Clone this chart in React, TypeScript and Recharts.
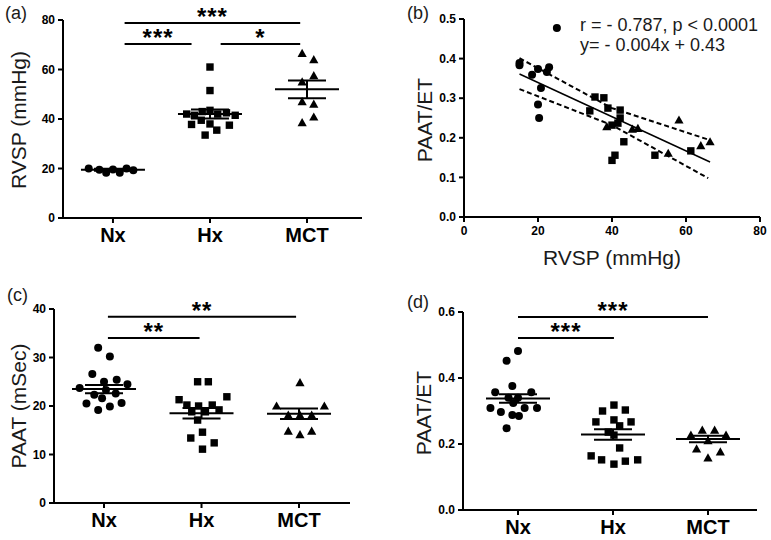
import React from "react"
import {
  ScatterChart,
  Scatter,
  XAxis,
  YAxis,
  ErrorBar,
  ReferenceLine,
} from "recharts"

const font = "Arial, 'Liberation Sans', sans-serif"
const ink = "#1a1a1a"

const groups = ["Nx", "Hx", "MCT"]

// (a) RVSP (mmHg), x = group position with jitter
const rvspNx = [
  { x: 0.75, y: 20 }, { x: 0.86, y: 19.5 }, { x: 0.93, y: 18.3 }, { x: 1.0, y: 19.6 },
  { x: 1.07, y: 18.3 }, { x: 1.14, y: 20 }, { x: 1.21, y: 19.3 },
]
const rvspHx = [
  { x: 2.0, y: 61 }, { x: 2.0, y: 51.5 }, { x: 1.76, y: 42 }, { x: 1.84, y: 41.5 },
  { x: 1.92, y: 43 }, { x: 2.0, y: 43.5 }, { x: 2.08, y: 42 }, { x: 2.17, y: 42.5 },
  { x: 2.26, y: 41.5 }, { x: 1.81, y: 37.8 }, { x: 1.91, y: 39.5 }, { x: 2.0, y: 38 },
  { x: 2.2, y: 37.5 }, { x: 1.95, y: 33.5 }, { x: 2.07, y: 35.5 },
]
const rvspMct = [
  { x: 2.95, y: 66.5 }, { x: 3.07, y: 64 }, { x: 3.07, y: 57.5 }, { x: 2.95, y: 55 },
  { x: 2.95, y: 47 }, { x: 3.07, y: 46 }, { x: 2.95, y: 38.5 }, { x: 3.07, y: 40.8 },
]
const rvspStats = [
  { x: 1, y: 19.5, sem: 0.4 },
  { x: 2, y: 42, sem: 1.8 },
  { x: 3, y: 52, sem: 3.6 },
]
const rvspSig = [
  { x1: 1.12, x2: 2.93, y: 78.8, stars: "***" },
  { x1: 1.12, x2: 1.81, y: 70.3, stars: "***" },
  { x1: 2.11, x2: 2.93, y: 70.3, stars: "*" },
]

// (b) PAAT/ET vs RVSP
const corrNx = [
  { x: 25.1, y: 0.477 }, { x: 15, y: 0.389 }, { x: 15, y: 0.383 }, { x: 18.4, y: 0.359 },
  { x: 20, y: 0.374 }, { x: 22.4, y: 0.366 }, { x: 23, y: 0.378 }, { x: 20.8, y: 0.326 },
  { x: 20, y: 0.284 }, { x: 20.3, y: 0.25 },
]
const corrHx = [
  { x: 35.4, y: 0.303 }, { x: 37.8, y: 0.301 }, { x: 34, y: 0.268 }, { x: 38.9, y: 0.275 },
  { x: 40, y: 0.232 }, { x: 42.2, y: 0.27 }, { x: 42.2, y: 0.25 }, { x: 41.6, y: 0.237 },
  { x: 43.2, y: 0.19 }, { x: 40, y: 0.143 }, { x: 40.8, y: 0.156 }, { x: 51.6, y: 0.156 },
  { x: 61.3, y: 0.167 },
]
const corrMct = [
  { x: 58.1, y: 0.245 }, { x: 66.5, y: 0.19 }, { x: 64, y: 0.18 }, { x: 55.2, y: 0.161 },
  { x: 47, y: 0.224 }, { x: 38.6, y: 0.228 }, { x: 45.5, y: 0.222 },
]
const fitLine = [{ x: 15, y: 0.361 }, { x: 66.5, y: 0.139 }]
const ciUpper = [{ x: 15, y: 0.401 }, { x: 40, y: 0.275 }, { x: 66.5, y: 0.194 }]
const ciLower = [{ x: 15, y: 0.323 }, { x: 40, y: 0.232 }, { x: 66, y: 0.098 }]

// (c) PAAT (mSec)
const paatNx = [
  { x: 0.94, y: 32 }, { x: 1.06, y: 30.2 }, { x: 0.88, y: 26.6 }, { x: 0.75, y: 23.7 },
  { x: 1.0, y: 25 }, { x: 1.13, y: 25.4 }, { x: 1.24, y: 24.5 }, { x: 0.82, y: 20.5 },
  { x: 0.94, y: 19.2 }, { x: 1.06, y: 19.9 }, { x: 1.18, y: 20.6 }, { x: 0.9, y: 22.3 },
  { x: 1.02, y: 23.3 }, { x: 1.12, y: 22.6 }, { x: 0.98, y: 21.6 },
]
const paatHx = [
  { x: 1.96, y: 25 }, { x: 2.07, y: 25 }, { x: 2.26, y: 21.9 }, { x: 1.77, y: 21.3 },
  { x: 1.85, y: 20.2 }, { x: 1.97, y: 20 }, { x: 2.11, y: 20.2 }, { x: 1.9, y: 18.8 },
  { x: 2.04, y: 18.8 }, { x: 2.18, y: 19.2 }, { x: 1.96, y: 17.1 }, { x: 2.01, y: 14.6 },
  { x: 1.89, y: 13.4 }, { x: 2.13, y: 12.4 }, { x: 2.01, y: 11.1 },
]
const paatMct = [
  { x: 3.01, y: 24.8 }, { x: 2.77, y: 20 }, { x: 3.26, y: 20 }, { x: 2.89, y: 18.1 },
  { x: 3.01, y: 18.1 }, { x: 3.13, y: 18.1 }, { x: 2.89, y: 14.8 }, { x: 3.01, y: 14.1 },
  { x: 3.13, y: 14.8 },
]
const paatStats = [
  { x: 1, y: 23.5, sem: 0.85 },
  { x: 2, y: 18.5, sem: 1.1 },
  { x: 3, y: 18.4, sem: 1.1 },
]
const paatSig = [
  { x1: 1.04, x2: 2.97, y: 38.4, stars: "**" },
  { x1: 1.04, x2: 1.98, y: 34, stars: "**" },
]

// (d) PAAT/ET
const ratioNx = [
  { x: 1.0, y: 0.482 }, { x: 0.88, y: 0.452 }, { x: 0.94, y: 0.376 }, { x: 0.76, y: 0.357 },
  { x: 1.14, y: 0.357 }, { x: 0.9, y: 0.34 }, { x: 1.0, y: 0.34 }, { x: 0.71, y: 0.309 },
  { x: 0.82, y: 0.297 }, { x: 1.07, y: 0.309 }, { x: 1.2, y: 0.309 }, { x: 0.94, y: 0.288 },
  { x: 1.01, y: 0.285 }, { x: 0.88, y: 0.248 }, { x: 0.95, y: 0.324 },
]
const ratioHx = [
  { x: 2.01, y: 0.318 }, { x: 1.89, y: 0.3 }, { x: 2.13, y: 0.303 }, { x: 1.82, y: 0.267 },
  { x: 2.01, y: 0.273 }, { x: 2.19, y: 0.267 }, { x: 2.07, y: 0.255 }, { x: 1.95, y: 0.236 },
  { x: 2.01, y: 0.227 }, { x: 2.07, y: 0.188 }, { x: 1.77, y: 0.164 }, { x: 1.88, y: 0.152 },
  { x: 2.01, y: 0.139 }, { x: 2.13, y: 0.148 }, { x: 2.26, y: 0.152 },
]
const ratioMct = [
  { x: 2.94, y: 0.242 }, { x: 3.07, y: 0.242 }, { x: 2.82, y: 0.227 }, { x: 3.19, y: 0.227 },
  { x: 3.0, y: 0.21 }, { x: 2.88, y: 0.185 }, { x: 3.13, y: 0.176 }, { x: 3.0, y: 0.158 },
]
const ratioStats = [
  { x: 1, y: 0.338, sem: 0.013 },
  { x: 2, y: 0.229, sem: 0.016 },
  { x: 3, y: 0.215, sem: 0.01 },
]
const ratioSig = [
  { x1: 1.0, x2: 3.0, y: 0.585, stars: "***" },
  { x1: 1.0, x2: 2.01, y: 0.521, stars: "***" },
]

const Dot = (p: any) => <circle cx={p.cx} cy={p.cy} r={4} fill="#000" />
const Square = (p: any) => (
  <rect x={p.cx - 3.7} y={p.cy - 3.7} width={7.4} height={7.4} fill="#000" />
)
const Tri = (p: any) => (
  <polygon
    points={`${p.cx},${p.cy - 4.6} ${p.cx - 4.6},${p.cy + 3.6} ${p.cx + 4.6},${p.cy + 3.6}`}
    fill="#000"
  />
)
const MeanLine = (p: any) => (
  <line x1={p.cx - 32} x2={p.cx + 32} y1={p.cy} y2={p.cy} stroke="#000" strokeWidth={2} />
)
const Nothing = () => <g />

const axisLine = { stroke: "#000", strokeWidth: 2 }
const smallTick = { fill: "#000", fontSize: 12, fontWeight: "bold", fontFamily: font }
const groupTick = { fill: "#000", fontSize: 20, fontWeight: "bold", fontFamily: font }

function GroupPanel(props: any) {
  const { margin, xDomain, yDomain, yTicks, yFmt, nx, hx, mct, stats, sig } = props
  return (
    <ScatterChart width={props.width} height={270} margin={margin}>
      <XAxis
        type="number"
        dataKey="x"
        domain={xDomain}
        ticks={[1, 2, 3]}
        tickFormatter={(v: number) => groups[v - 1]}
        axisLine={axisLine}
        tickLine={axisLine}
        tickSize={5}
        tickMargin={5}
        tick={groupTick}
        height={30}
      />
      <YAxis
        type="number"
        dataKey="y"
        domain={yDomain}
        ticks={yTicks}
        tickFormatter={yFmt}
        axisLine={axisLine}
        tickLine={axisLine}
        tickSize={5}
        tickMargin={3}
        tick={smallTick}
        width={45}
      />
      <Scatter data={nx} shape={Dot} isAnimationActive={false} />
      <Scatter data={hx} shape={Square} isAnimationActive={false} />
      <Scatter data={mct} shape={Tri} isAnimationActive={false} />
      <Scatter data={stats} shape={MeanLine} isAnimationActive={false}>
        <ErrorBar
          dataKey="sem"
          direction="y"
          width={19}
          stroke="#000"
          strokeWidth={2}
          isAnimationActive={false}
        />
      </Scatter>
      {sig.map((s: any, i: number) => (
        <ReferenceLine
          key={i}
          segment={[{ x: s.x1, y: s.y }, { x: s.x2, y: s.y }]}
          stroke="#000"
          strokeWidth={2}
          label={{
            value: s.stars,
            position: "top",
            offset: -2,
            fill: "#000",
            fontSize: 24,
            fontWeight: "bold",
            fontFamily: font,
            letterSpacing: 1,
          }}
        />
      ))}
    </ScatterChart>
  )
}

const abs = (left: number, top: number): React.CSSProperties => ({
  position: "absolute",
  left,
  top,
})

function VText({ x, y, children }: any) {
  return (
    <div
      style={{
        position: "absolute",
        left: x,
        top: y,
        transform: "translate(-50%, -50%) rotate(-90deg)",
        whiteSpace: "nowrap",
        fontFamily: font,
        fontSize: 21,
        color: ink,
        lineHeight: 1,
      }}
    >
      {children}
    </div>
  )
}

function Tag({ x, y, children, size = 18 }: any) {
  return (
    <div
      style={{
        position: "absolute",
        left: x,
        top: y,
        transform: "translateY(-50%)",
        whiteSpace: "nowrap",
        fontFamily: font,
        fontSize: size,
        color: ink,
        lineHeight: 1,
      }}
    >
      {children}
    </div>
  )
}

export default function App() {
  return (
    <div
      style={{
        position: "absolute",
        left: 0,
        top: 0,
        width: 771,
        height: 540,
        background: "#fff",
        overflow: "hidden",
      }}
    >
      {/* (a) */}
      <div style={abs(0, 0)}>
        <GroupPanel
          width={385}
          margin={{ top: 20, right: 23, left: 18, bottom: 22 }}
          xDomain={[0.485, 3.567]}
          yDomain={[0, 80]}
          yTicks={[0, 20, 40, 60, 80]}
          yFmt={(v: number) => String(v)}
          nx={rvspNx}
          hx={rvspHx}
          mct={rvspMct}
          stats={rvspStats}
          sig={rvspSig}
        />
      </div>

      {/* (b) */}
      <div style={abs(385, 0)}>
        <ScatterChart width={386} height={270} margin={{ top: 19, right: 11, left: 34, bottom: 23 }}>
          <XAxis
            type="number"
            dataKey="x"
            domain={[0, 80]}
            ticks={[0, 20, 40, 60, 80]}
            axisLine={axisLine}
            tickLine={axisLine}
            tickSize={5}
            tickMargin={4}
            tick={smallTick}
            height={30}
          />
          <YAxis
            type="number"
            dataKey="y"
            domain={[0, 0.5]}
            ticks={[0, 0.1, 0.2, 0.3, 0.4, 0.5]}
            tickFormatter={(v: number) => v.toFixed(1)}
            axisLine={axisLine}
            tickLine={axisLine}
            tickSize={5}
            tickMargin={3}
            tick={smallTick}
            width={45}
          />
          <Scatter data={ciUpper} shape={Nothing} line={{ stroke: "#000", strokeWidth: 2, strokeDasharray: "5 3" }} isAnimationActive={false} />
          <Scatter data={ciLower} shape={Nothing} line={{ stroke: "#000", strokeWidth: 2, strokeDasharray: "5 3" }} isAnimationActive={false} />
          <Scatter data={fitLine} shape={Nothing} line={{ stroke: "#000", strokeWidth: 1.5 }} isAnimationActive={false} />
          <Scatter data={corrNx} shape={Dot} isAnimationActive={false} />
          <Scatter data={corrHx} shape={Square} isAnimationActive={false} />
          <Scatter data={corrMct} shape={Tri} isAnimationActive={false} />
        </ScatterChart>
      </div>

      {/* (c) */}
      <div style={abs(0, 270)}>
        <GroupPanel
          width={385}
          margin={{ top: 39, right: 35, left: 9, bottom: 7 }}
          xDomain={[0.487, 3.523]}
          yDomain={[0, 40]}
          yTicks={[0, 10, 20, 30, 40]}
          yFmt={(v: number) => String(v)}
          nx={paatNx}
          hx={paatHx}
          mct={paatMct}
          stats={paatStats}
          sig={paatSig}
        />
      </div>

      {/* (d) */}
      <div style={abs(385, 270)}>
        <GroupPanel
          width={386}
          margin={{ top: 42, right: 14, left: 33, bottom: 0 }}
          xDomain={[0.421, 3.516]}
          yDomain={[0, 0.6]}
          yTicks={[0, 0.2, 0.4, 0.6]}
          yFmt={(v: number) => v.toFixed(1)}
          nx={ratioNx}
          hx={ratioHx}
          mct={ratioMct}
          stats={ratioStats}
          sig={ratioSig}
        />
      </div>

      {/* axis titles and panel tags */}
      <VText x={18} y={120}>RVSP (mmHg)</VText>
      <VText x={424} y={120}>PAAT/ET</VText>
      <VText x={18} y={406}>PAAT (mSec)</VText>
      <VText x={423} y={413}>PAAT/ET</VText>
      <div
        style={{
          position: "absolute",
          left: 612,
          top: 257,
          transform: "translate(-50%, -50%)",
          whiteSpace: "nowrap",
          fontFamily: font,
          fontSize: 21,
          color: ink,
          lineHeight: 1,
        }}
      >
        RVSP (mmHg)
      </div>
      <Tag x={580} y={25}>r = - 0.787, p &lt; 0.0001</Tag>
      <Tag x={580} y={45}>y= - 0.004x + 0.43</Tag>
      <Tag x={5} y={13}>(a)</Tag>
      <Tag x={407} y={13}>(b)</Tag>
      <Tag x={7} y={295}>(c)</Tag>
      <Tag x={407} y={302}>(d)</Tag>
    </div>
  )
}
